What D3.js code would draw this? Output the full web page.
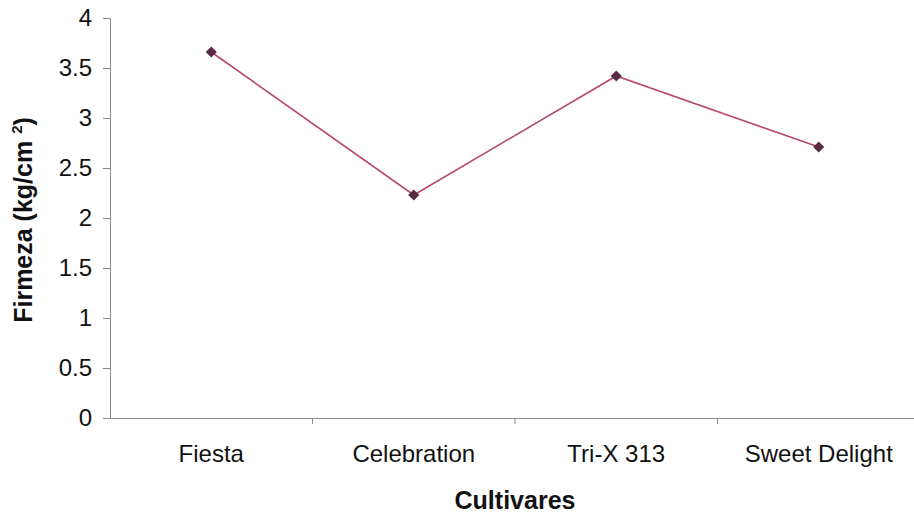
<!DOCTYPE html>
<html>
<head>
<meta charset="utf-8">
<script src="https://cdn.jsdelivr.net/npm/d3@7/dist/d3.min.js"></script>
<style>
  html, body { margin: 0; padding: 0; background: #fff; }
  svg { display: block; }
  text { font-family: "Liberation Sans", Arial, sans-serif; fill: #111; }
</style>
</head>
<body>
<svg id="chart" width="914" height="515"></svg>
<script>
// Firmness per cultivar
const categories = ["Fiesta", "Celebration", "Tri-X 313", "Sweet Delight"];
const firmeza = [3.66, 2.23, 3.42, 2.71];
const yTicks = [0, 0.5, 1, 1.5, 2, 2.5, 3, 3.5, 4];

const svg = d3.select("#chart");
const plotLeft = 110, plotRight = 920, plotTop = 18, plotBottom = 418;

const x = d3.scaleBand().domain(categories).range([plotLeft, plotRight]);
const y = d3.scaleLinear().domain([0, 4]).range([plotBottom, plotTop]);

const axisColor = "#8a8a8a";
const fontStack = "'Liberation Sans', Arial, sans-serif";

// Y axis
const yAxis = svg.append("g")
  .attr("transform", `translate(${plotLeft},0)`)
  .call(d3.axisLeft(y).tickValues(yTicks).tickSize(7).tickPadding(11)
    .tickFormat(d => String(d)));
yAxis.selectAll("path, line").attr("stroke", axisColor);
yAxis.selectAll("text").attr("font-size", 24).attr("fill", "#111")
  .style("font-family", fontStack);

// X axis: labels at band centres, ticks at band boundaries
const xAxis = svg.append("g")
  .attr("transform", `translate(0,${plotBottom})`)
  .call(d3.axisBottom(x).tickSize(0).tickPadding(27));
xAxis.select(".domain").attr("stroke", axisColor);
xAxis.selectAll("text").attr("font-size", 24).attr("fill", "#111")
  .style("font-family", fontStack);
xAxis.selectAll(".bound")
  .data(categories.slice(1))
  .join("line")
  .attr("class", "bound")
  .attr("x1", d => x(d)).attr("x2", d => x(d))
  .attr("y1", 0).attr("y2", 6)
  .attr("stroke", axisColor);

// Series line
const line = d3.line()
  .x((d, i) => x(categories[i]) + x.bandwidth() / 2)
  .y(d => y(d));
svg.append("path")
  .datum(firmeza)
  .attr("d", line)
  .attr("fill", "none")
  .attr("stroke", "#b54a68")
  .attr("stroke-width", 1.6);

// Diamond markers (rotated squares)
svg.selectAll(".pt")
  .data(firmeza)
  .join("path")
  .attr("class", "pt")
  .attr("d", d3.symbol().type(d3.symbolSquare).size(62))
  .attr("transform", (d, i) => `translate(${x(categories[i]) + x.bandwidth() / 2},${y(d)}) rotate(45)`)
  .attr("fill", "#5a2c44");

// Axis titles
svg.append("text")
  .attr("x", 515).attr("y", 509)
  .attr("text-anchor", "middle")
  .attr("font-size", 25).attr("font-weight", "bold")
  .text("Cultivares");

const yt = svg.append("text")
  .attr("transform", "translate(32,220) rotate(-90)")
  .attr("text-anchor", "middle")
  .attr("font-size", 25).attr("font-weight", "bold");
yt.append("tspan").text("Firmeza (kg/cm ");
yt.append("tspan").attr("font-size", 15).attr("dy", -10).text("2");
yt.append("tspan").attr("dy", 10).text(")");
</script>
</body>
</html>
